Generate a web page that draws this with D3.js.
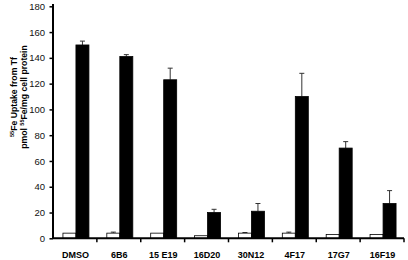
<!DOCTYPE html>
<html><head><meta charset="utf-8">
<script src="https://cdn.jsdelivr.net/npm/d3@7"></script>
<style>body{margin:0;background:#fff}svg{display:block}</style>
</head><body>
<script>
const categories = ["DMSO","6B6","15 E19","16D20","30N12","4F17","17G7","16F19"];
const whiteVals = [4, 4, 4, 2, 4, 4, 3, 3];
const whiteErr  = [0, 0.8, 0, 0, 0.5, 0.8, 0, 0];
const blackVals = [150, 141, 123, 20, 21, 110, 70, 27];
const blackErr  = [3, 1.5, 9, 2.5, 6, 18, 5, 10];
const yTicks = [0,20,40,60,80,100,120,140,160,180];

const W = 408, H = 260;
const svg = d3.select("body").append("svg").attr("width", W).attr("height", H);
const x0 = 53, x1 = 404, yTop = 6.3, yBot = 238.3;
const x = d3.scaleBand().domain(categories).range([x0, x1]).paddingInner(0).paddingOuter(0);
const y = d3.scaleLinear().domain([0,180]).range([yBot, yTop]);
const sub = d3.scaleBand().domain(["w","b"]).range([0, 26]);
const font = "Liberation Sans, Arial, Helvetica, sans-serif";

const g = svg.append("g");
categories.forEach((c, i) => {
  const gx = x(c) + x.bandwidth()/2 - 12;
  const series = [["w", whiteVals[i], whiteErr[i], "#fff"], ["b", blackVals[i], blackErr[i], "#000"]];
  series.forEach(([k, v, e, col]) => {
    const bx = gx + sub(k);
    const bw = sub.bandwidth();
    if (e > 0) {
      const cx = bx + bw/2;
      g.append("line").attr("x1", cx).attr("x2", cx).attr("y1", y(v)).attr("y2", y(v+e))
        .attr("stroke", "#333").attr("stroke-width", 1);
      g.append("line").attr("x1", cx-2.5).attr("x2", cx+2.5).attr("y1", y(v+e)).attr("y2", y(v+e))
        .attr("stroke", "#333").attr("stroke-width", 1);
    }
    g.append("rect").attr("x", bx).attr("y", y(v)).attr("width", bw).attr("height", y(0)-y(v))
      .attr("fill", col).attr("stroke", "#000").attr("stroke-width", 0.8);
  });
});

// y axis
const yAxis = d3.axisLeft(y).tickValues(yTicks).tickSize(3.5).tickPadding(4.5);
const ya = svg.append("g").attr("transform", `translate(${x0},0)`).call(yAxis);
ya.select(".domain").attr("stroke-width", 2).attr("d", `M0,4V${yBot}`);
ya.selectAll(".tick line").attr("stroke-width", 1.5);
ya.selectAll("text").attr("font-family", font).attr("font-size", 9.5).attr("fill", "#111");

// x axis
const xa = svg.append("g").attr("transform", `translate(0,${yBot})`);
xa.append("line").attr("x1", x0).attr("x2", x1).attr("stroke", "#000").attr("stroke-width", 2);
categories.forEach(c => {
  const bx = x(c) + x.bandwidth();
  xa.append("line").attr("x1", bx).attr("x2", bx).attr("y1", 0).attr("y2", 4)
    .attr("stroke", "#000").attr("stroke-width", 1.5);
  xa.append("text").attr("x", x(c) + x.bandwidth()/2 + 0.5).attr("y", 20.2)
    .attr("text-anchor", "middle").attr("font-family", font).attr("font-weight", "bold")
    .attr("font-size", 9).text(c);
});

// y label
const lg1 = svg.append("g").attr("transform", "translate(16.5,97) rotate(-90)");
const lab = lg1.append("text").attr("x", 0).attr("y", 0)
  .attr("text-anchor", "middle").attr("font-family", font).attr("font-weight", "bold").attr("font-size", 8.7);
lab.append("tspan").attr("font-size", 5.5).attr("baseline-shift", "super").text("55");
lab.append("tspan").text("Fe Uptake from Tf");
const lg2 = svg.append("g").attr("transform", "translate(27,97) rotate(-90)");
const lab2 = lg2.append("text").attr("x", 0).attr("y", 0)
  .attr("text-anchor", "middle").attr("font-family", font).attr("font-weight", "bold").attr("font-size", 8.7);
lab2.append("tspan").text("pmol ");
lab2.append("tspan").attr("font-size", 5.5).attr("baseline-shift", "super").text("55");
lab2.append("tspan").text("Fe/mg cell protein");
</script>
</body></html>
